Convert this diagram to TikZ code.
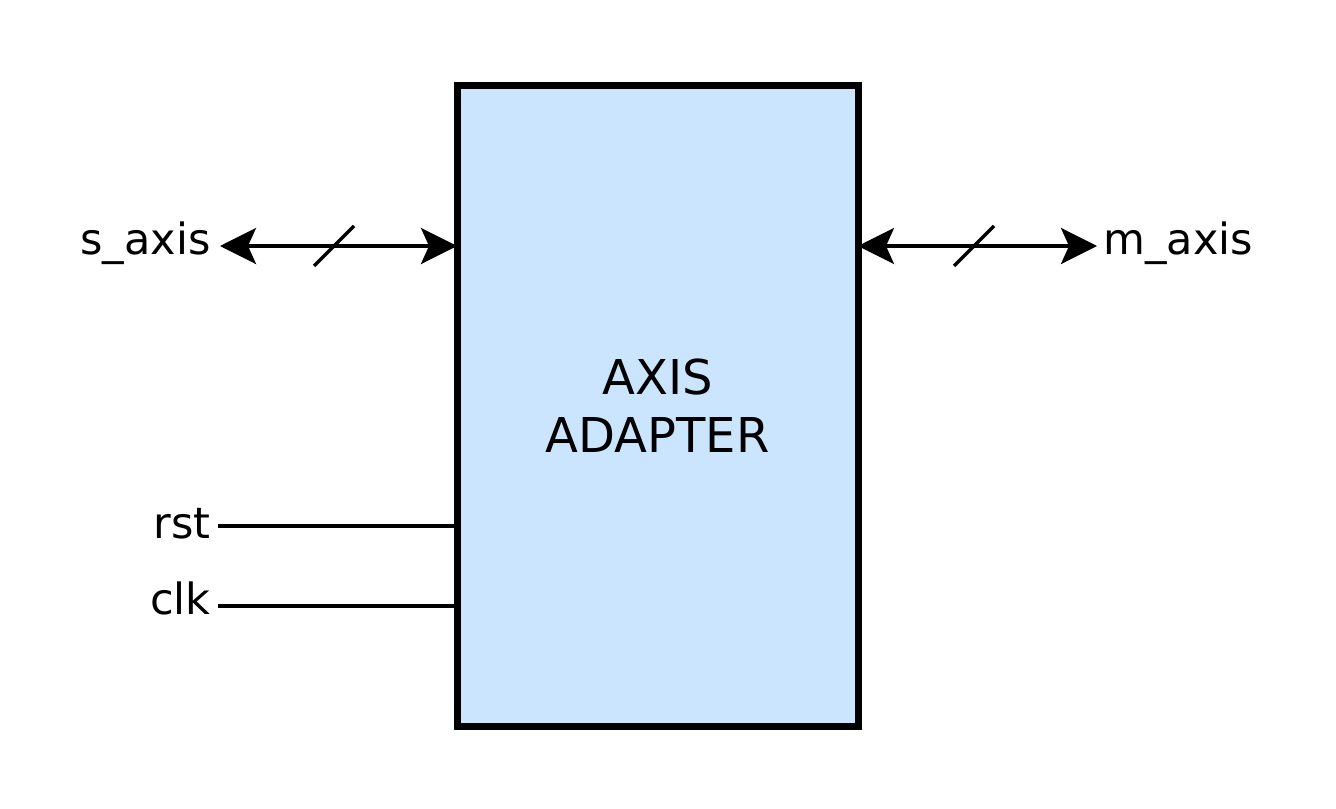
\documentclass[tikz,border=0pt]{standalone}
\usepackage{fontspec}
\setmainfont{DejaVu Sans}
\usetikzlibrary{arrows.meta}
\definecolor{boxfill}{HTML}{CCE5FF}
\begin{document}
\begin{tikzpicture}[x=0.5pt,y=-0.5pt,
  blockbox/.style={draw=black,line width=3.5pt,fill=boxfill,minimum width=200.5pt,minimum height=320pt,inner sep=0pt,font=\fontsize{24}{29}\selectfont,align=center},
  sig/.style={line width=1.75pt},
  bus/.style={line width=1.75pt,{Stealth[length=18pt,width=18pt,inset=4pt]}-{Stealth[length=18pt,width=18pt,inset=4pt]}},
  lbl/.style={font=\fontsize{21.5}{26}\selectfont,inner sep=0pt}]
\useasboundingbox (0,0) rectangle (1336,808);
\node[blockbox] (blk) at (657.5,406) {AXIS\\ADAPTER};
\coordinate (sL) at (220,246);
\coordinate (sR) at (457,246);
\coordinate (mL) at (858,246);
\coordinate (mR) at (1097,246);
\coordinate (rL) at (218,526);
\coordinate (rR) at (457,526);
\coordinate (cL) at (218,606);
\coordinate (cR) at (457,606);
\draw[bus] (sL) -- (sR);
\draw[bus] (mL) -- (mR);
\coordinate (s1a) at (314,266); \coordinate (s1b) at (354,226);
\coordinate (s2a) at (954,266); \coordinate (s2b) at (994,226);
\draw[sig] (s1a) -- (s1b);
\draw[sig] (s2a) -- (s2b);
\draw[sig] (rL) -- (rR);
\draw[sig] (cL) -- (cR);
\node[lbl,anchor=base east] (ls) at (211,254) {s\_axis};
\node[lbl,anchor=base west] (lm) at (1103,254) {m\_axis};
\node[lbl,anchor=base east] (lr) at (211,538) {rst};
\node[lbl,anchor=base east] (lc) at (211,614) {clk};
\end{tikzpicture}
\end{document}
